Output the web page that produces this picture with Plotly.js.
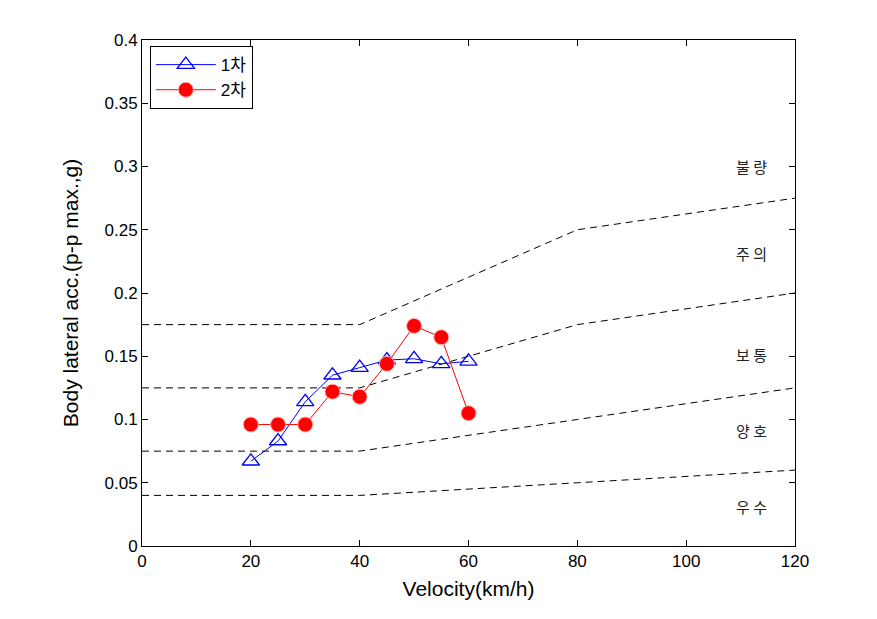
<!DOCTYPE html>
<html><head><meta charset="utf-8">
<script src="https://cdn.plot.ly/plotly-3.0.1.min.js"></script>
<style>body{margin:0;background:#fff}#c{width:877px;height:619px}</style>
</head><body><div id="c"></div>
<script>
const velocity = [20, 25, 30, 35, 40, 45, 50, 55, 60];
const series1 = [0.067, 0.083, 0.114, 0.135, 0.141, 0.147, 0.148, 0.144, 0.146];
const series2 = [0.096, 0.096, 0.096, 0.122, 0.118, 0.144, 0.174, 0.165, 0.105];
const seriesNames = ['1차', '2차'];
const boundX = [0, 40, 80, 120];
const bound1 = [0.04, 0.04, 0.05, 0.06];
const bound2 = [0.075, 0.075, 0.1, 0.125];
const bound3 = [0.125, 0.125, 0.175, 0.2];
const bound4 = [0.175, 0.175, 0.25, 0.275];
const gradeLabels = ['불 량', '주 의', '보 통', '양 호', '우 수'];
const gradeY = [0.3, 0.231, 0.151, 0.091, 0.031];
const gradeX = 112;

const F = 'Liberation Sans, Arial, Noto Sans CJK KR, sans-serif';
const dash = {color: '#000', width: 1, dash: '7px,5px'};
const traces = [bound1, bound2, bound3, bound4].map(b => ({
  x: boundX, y: b, mode: 'lines', line: dash, showlegend: false, hoverinfo: 'skip'
}));
traces.push({
  x: velocity, y: series1, name: seriesNames[0], mode: 'lines+markers',
  line: {color: '#0000ff', width: 1},
  marker: {symbol: 'triangle-up-open', size: 15, color: '#0000ff', line: {width: 1.3, color: '#0000ff'}}
});
traces.push({
  x: velocity, y: series2, name: seriesNames[1], mode: 'lines+markers',
  line: {color: '#ff0000', width: 1},
  marker: {symbol: 'circle', size: 15, color: '#ff0000', line: {width: 1, color: '#ffb0b0'}}
});

const annotations = gradeLabels.map((t, i) => ({
  x: gradeX, y: gradeY[i], xref: 'x', yref: 'y', text: t, showarrow: false,
  font: {family: 'Noto Sans CJK KR, sans-serif', size: 15, color: '#222'}
}));

const axisCommon = {
  showgrid: false, zeroline: false, showline: true, linecolor: '#000', linewidth: 1,
  mirror: 'ticks', ticks: 'inside', ticklen: 6, tickcolor: '#000',
  tickfont: {family: F, size: 17, color: '#000'}
};

const layout = {
  width: 877, height: 619,
  margin: {l: 142, r: 82, t: 40, b: 73},
  paper_bgcolor: '#fff', plot_bgcolor: '#fff',
  showlegend: true,
  legend: {x: 0.012, y: 0.988, xanchor: 'left', yanchor: 'top', bgcolor: '#fff',
    bordercolor: '#000', borderwidth: 1, font: {family: F, size: 17, color: '#000'},
    itemwidth: 60, tracegroupgap: 4},
  xaxis: Object.assign({}, axisCommon, {range: [0, 120], tickvals: [0, 20, 40, 60, 80, 100, 120],
    title: {text: 'Velocity(km/h)', font: {family: F, size: 21, color: '#000'}, standoff: 10}}),
  yaxis: Object.assign({}, axisCommon, {range: [0, 0.4], tickvals: [0, 0.05, 0.1, 0.15, 0.2, 0.25, 0.3, 0.35, 0.4],
    ticktext: ['0', '0.05', '0.1', '0.15', '0.2', '0.25', '0.3', '0.35', '0.4'],
    title: {text: 'Body lateral acc.(p-p max.,g)', font: {family: F, size: 21, color: '#000'}, standoff: 20}}),
  annotations: annotations
};
Plotly.newPlot('c', traces, layout, {displayModeBar: false});
</script></body></html>
